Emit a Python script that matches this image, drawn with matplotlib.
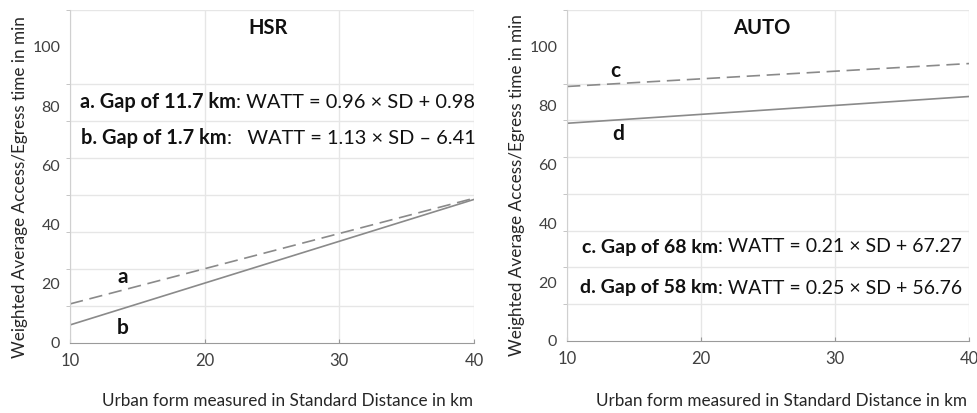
import matplotlib
matplotlib.use("Agg")
import matplotlib.pyplot as plt
from matplotlib.ticker import MultipleLocator
import numpy as np

plt.rcParams['font.family'] = ['Lato', 'DejaVu Sans']

# ---- data ----
sd = [10, 40]
hsr_a = [13.2, 48.9]
hsr_b = [6.1, 48.5]
auto_c = [86.5, 94.3]
auto_d = [74.0, 83.1]

x_ticks = [10, 20, 30, 40]
y_ticks = [0, 20, 40, 60, 80, 100]

hsr_title = "HSR"
auto_title = "AUTO"
hsr_eq_bold = ["a. Gap of 11.7 km", "b. Gap of 1.7 km"]
hsr_eq_reg = [": WATT = 0.96 \u00d7 SD + 0.98", ":   WATT = 1.13 \u00d7 SD \u2013 6.41"]
auto_eq_bold = ["c. Gap of 68 km", "d. Gap of 58 km"]
auto_eq_reg = [": WATT = 0.21 \u00d7 SD + 67.27", ": WATT = 0.25 \u00d7 SD + 56.76"]

ylabel = "Weighted Average Access/Egress time in min"
xlabel = "Urban form measured in Standard Distance in km"

W, H = 977, 413
fig = plt.figure(figsize=(W / 100, H / 100), dpi=100)

TXT = '#262626'
LINE = '#8a8a8a'
GRID = '#e6e6e6'


def px_ax(x0, x1, ybot, ytop):
    return [x0 / W, 1 - ybot / H, (x1 - x0) / W, (ybot - ytop) / H]


ax1 = fig.add_axes(px_ax(70, 474, 343, 10))
ax2 = fig.add_axes(px_ax(567, 969, 341, 10))


def style(ax):
    ax.set_xlim(10, 40)
    ax.set_ylim(0, 112.5)
    ax.set_xticks(x_ticks)
    ax.set_yticks(y_ticks)
    ax.yaxis.set_minor_locator(MultipleLocator(12.5))
    ax.grid(axis='y', which='minor', color=GRID, lw=1.0)
    ax.grid(axis='x', which='major', color=GRID, lw=1.0)
    ax.tick_params(axis='y', which='major', length=0, pad=7, labelsize=11.5, labelcolor='#404040')
    ax.tick_params(axis='y', which='minor', length=3, direction='out', color='#bbbbbb')
    ax.tick_params(axis='x', which='major', length=3, direction='in', color='#999999',
                   pad=7, labelsize=12, labelcolor='#404040')
    for s in ['top', 'right']:
        ax.spines[s].set_visible(False)
    ax.spines['bottom'].set_color('#9a9a9a')
    ax.spines['left'].set_color('#d0d0d0')
    ax.set_axisbelow(True)


style(ax1)
style(ax2)

# axis labels (placed as in the reference)
fig.text(20 / W, 1 - 187 / H, ylabel, rotation=90, ha='center', va='center',
         fontsize=12.3, color=TXT)
fig.text(517 / W, 1 - 185 / H, ylabel, rotation=90, ha='center', va='center',
         fontsize=12.3, color=TXT)
fig.text(287 / W, 1 - 401 / H, xlabel, ha='center', va='center', fontsize=12.3, color=TXT)
fig.text(782 / W, 1 - 401 / H, xlabel, ha='center', va='center', fontsize=12.3, color=TXT)

# lines
ax1.plot(sd, hsr_a, color=LINE, lw=1.2, dashes=(8, 4))
ax1.plot(sd, hsr_b, color=LINE, lw=1.2)
ax2.plot(sd, auto_c, color=LINE, lw=1.2, dashes=(8, 4))
ax2.plot(sd, auto_d, color=LINE, lw=1.2)

# titles
ax1.text(0.49, 0.946, hsr_title, transform=ax1.transAxes, ha='center', va='center',
         fontsize=14.5, fontweight='bold', color='#111111')
ax2.text(0.484, 0.946, auto_title, transform=ax2.transAxes, ha='center', va='center',
         fontsize=14.5, fontweight='bold', color='#111111')

# line labels
lab_kw = dict(fontsize=15, fontweight='bold', color='#111111', ha='center', va='center')
ax1.text(13.9, 22.3, "a", **lab_kw)
ax1.text(13.9, 5.1, "b", **lab_kw)
ax2.text(13.6, 91.9, "c", **lab_kw)
ax2.text(13.8, 70.5, "d", **lab_kw)

# equations
fig.canvas.draw()
renderer = fig.canvas.get_renderer()


def eq(xpx, ypx, bold, reg, fs):
    t1 = fig.text(xpx / W, 1 - ypx / H, bold, fontsize=fs, fontweight='bold',
                  color='#111111', ha='left', va='center')
    bb = t1.get_window_extent(renderer)
    fig.text(bb.x1 / W, 1 - ypx / H, reg, fontsize=fs, color='#111111',
             ha='left', va='center')


eq(80, 102, hsr_eq_bold[0], hsr_eq_reg[0], 14.4)
eq(81, 138, hsr_eq_bold[1], hsr_eq_reg[1], 14.4)
eq(582, 247, auto_eq_bold[0], auto_eq_reg[0], 14.0)
eq(580, 288, auto_eq_bold[1], auto_eq_reg[1], 14.0)

fig.savefig("out.png", dpi=100)
